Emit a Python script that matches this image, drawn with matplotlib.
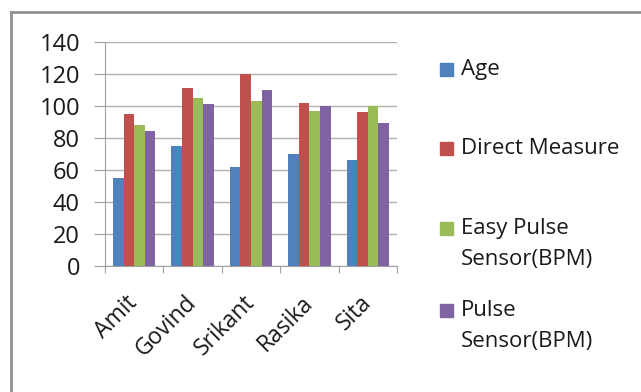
import matplotlib.pyplot as plt
import numpy as np
import matplotlib.transforms as mtransforms
from matplotlib.patches import Rectangle
from matplotlib.lines import Line2D

names = ["Amit", "Govind", "Srikant", "Rasika", "Sita"]
series = ["Age", "Direct Measure", "Easy Pulse\nSensor(BPM)", "Pulse\nSensor(BPM)"]
age = [55, 75, 62, 70, 66]
direct = [95, 111, 120, 102, 96]
easy = [88, 105, 103, 97, 100]
pulse = [84, 101, 110, 100, 89]
colors = ["#4F81BD", "#C0504D", "#9BBB59", "#8064A2"]

plt.rcParams['font.family'] = ['Open Sans', 'DejaVu Sans']

fig = plt.figure(figsize=(6.41, 3.92), dpi=100)
ax = fig.add_axes([0.1638, 0.3214, 0.4555, 0.5722])

x = np.arange(len(names))
w = 1 / 5.5
for k, vals in enumerate([age, direct, easy, pulse]):
    ax.bar(x + (k - 1.5) * w, vals, w, color=colors[k], zorder=3)

ax.set_xlim(-0.5, len(names) - 0.5)
ax.set_ylim(0, 140)
ax.set_yticks(range(0, 141, 20))
ax.yaxis.grid(True, color="#b0b0b0", lw=1)
ax.set_axisbelow(True)
for s in ["top", "right"]:
    ax.spines[s].set_visible(False)
for s in ["left", "bottom"]:
    ax.spines[s].set_color("#a0a0a0")
ax.set_xticks(np.arange(-0.5, len(names)))
ax.set_xticklabels([])
ax.set_xticks(x, minor=True)
ax.set_xticklabels(names, minor=True, rotation=45, ha="right", va="center",
                   rotation_mode="anchor", fontsize=16.5, color="#1a1a1a")
shift = mtransforms.ScaledTranslation(4 / 100, -2 / 100, fig.dpi_scale_trans)
for t in ax.get_xticklabels(minor=True):
    t.set_transform(t.get_transform() + shift)
ax.tick_params(axis="x", which="minor", length=0, pad=24)
ax.tick_params(axis="x", which="major", length=5, color="#a0a0a0")
ax.tick_params(axis="y", length=8, color="#a0a0a0", labelsize=17,
               labelcolor="#1a1a1a", pad=10)

# legend drawn by hand
W, H = 641, 392
ys = [69.5, 148, 229, 310]
for k, lab in enumerate(series):
    yc = ys[k]
    fig.patches.append(Rectangle((440 / W, 1 - (yc + 6.5) / H), 13 / W, 13 / H,
                                 transform=fig.transFigure, color=colors[k]))
    for j, line in enumerate(lab.split("\n")):
        fig.text(461 / W, 1 - (yc + 31 * j) / H, line, fontsize=16,
                 va="center", ha="left", color="#1a1a1a")

# chart border
fig.lines.append(Line2D([11 / W, 11 / W], [0, 1 - 12 / H], transform=fig.transFigure,
                        color="#909090", lw=2))
fig.lines.append(Line2D([11 / W, 1], [1 - 12 / H, 1 - 12 / H], transform=fig.transFigure,
                        color="#909090", lw=2))

fig.savefig("out.png", dpi=100)
